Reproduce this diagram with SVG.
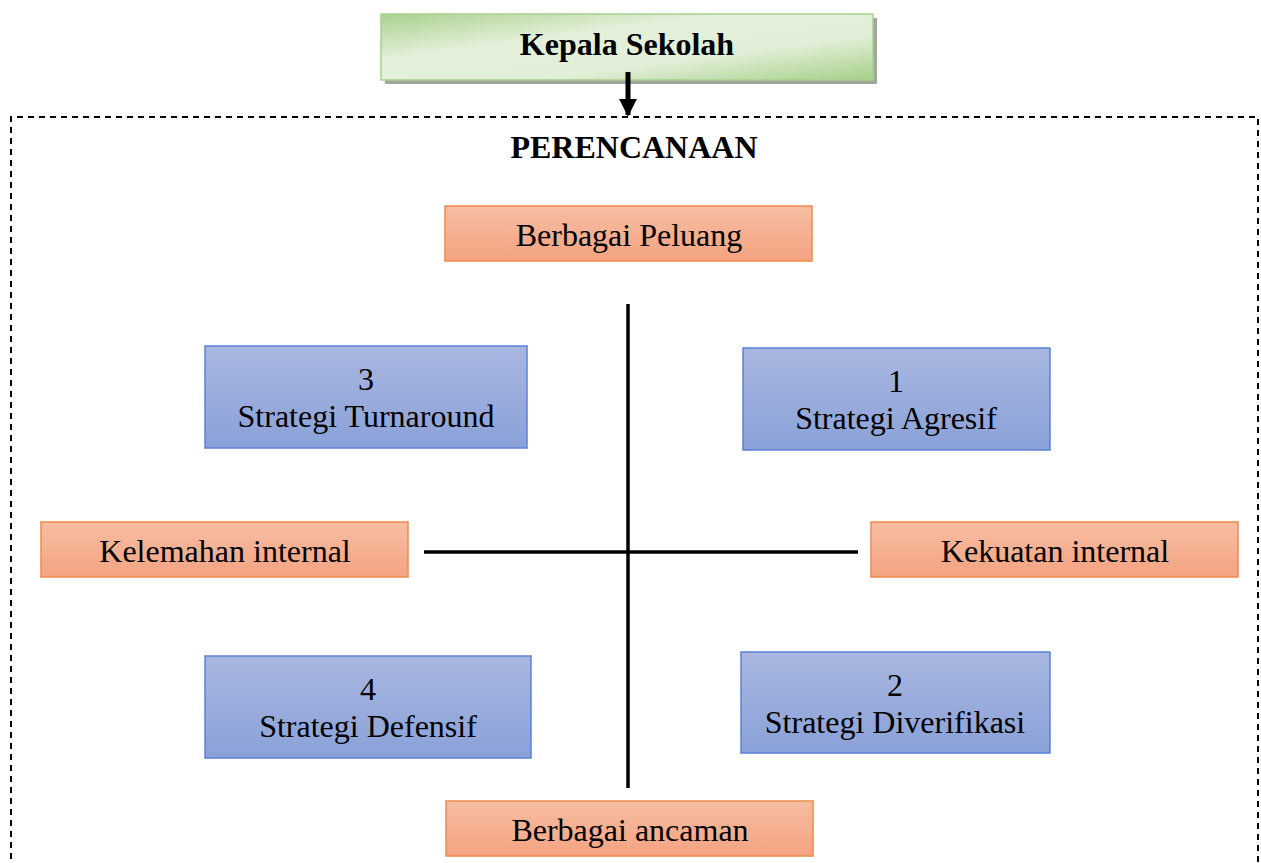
<svg xmlns="http://www.w3.org/2000/svg" width="1261" height="863" viewBox="0 0 1261 863">
  <style>
    .t { font-family: "Liberation Serif", "Times New Roman", serif; font-size: 32px; fill: #000; text-anchor: middle; }
    .b { font-weight: bold; }
    .orange { fill: url(#gOrange); stroke: #F08A4B; stroke-width: 1.5; }
    .blue { fill: url(#gBlue); stroke: #5B82D6; stroke-width: 1.5; }
    .axis { stroke: #000; stroke-width: 3.5; fill: none; }
  </style>
  <defs>
    <linearGradient id="gOrange" x1="0" y1="0" x2="0" y2="1">
      <stop offset="0" stop-color="#F7BDA2"/>
      <stop offset="1" stop-color="#F4A381"/>
    </linearGradient>
    <linearGradient id="gBlue" x1="0" y1="0" x2="0" y2="1">
      <stop offset="0" stop-color="#A9B7E0"/>
      <stop offset="1" stop-color="#8AA1D8"/>
    </linearGradient>
    <linearGradient id="gGreen" x1="0" y1="0" x2="1" y2="1">
      <stop offset="0" stop-color="#A9D18E"/>
      <stop offset="0.35" stop-color="#E4F0DA"/>
      <stop offset="0.65" stop-color="#E2EFD8"/>
      <stop offset="1" stop-color="#A6D08A"/>
    </linearGradient>
    <marker id="arrow" viewBox="0 0 10 10" refX="9" refY="5" markerWidth="3.6" markerHeight="3.6" orient="auto" markerUnits="strokeWidth">
      <path d="M0,0 L10,5 L0,10 Z" fill="#000"/>
    </marker>
  </defs>

  <!-- planning frame -->
  <path d="M11,870 L11,117 L1258,117 L1258,870" fill="none" stroke="#000" stroke-width="2" stroke-dasharray="6,5"/>

  <!-- head node -->
  <g id="kepala">
    <rect x="385" y="18" width="492" height="66" fill="#9FA89A"/>
    <rect x="381" y="14" width="492" height="66" fill="url(#gGreen)" stroke="#A9D18E" stroke-width="1.5"/>
    <text class="t b" x="627" y="55">Kepala Sekolah</text>
  </g>

  <text class="t b" x="634" y="158">PERENCANAAN</text>

  <!-- connectors -->
  <g id="connectors">
    <line x1="628" y1="72" x2="628" y2="115" stroke="#000" stroke-width="5" marker-end="url(#arrow)"/>
    <line class="axis" x1="628" y1="304" x2="628" y2="788"/>
    <line class="axis" x1="424" y1="552" x2="858" y2="552"/>
  </g>

  <g id="peluang">
    <rect class="orange" x="445" y="206" width="367" height="55"/>
    <text class="t" x="629" y="246">Berbagai Peluang</text>
  </g>

  <g id="ancaman">
    <rect class="orange" x="446" y="801" width="367" height="55"/>
    <text class="t" x="630" y="841">Berbagai ancaman</text>
  </g>

  <g id="kelemahan">
    <rect class="orange" x="41" y="522" width="367" height="55"/>
    <text class="t" x="225" y="562">Kelemahan internal</text>
  </g>

  <g id="kekuatan">
    <rect class="orange" x="871" y="522" width="367" height="55"/>
    <text class="t" x="1055" y="562">Kekuatan internal</text>
  </g>

  <g id="turnaround">
    <rect class="blue" x="205" y="346" width="322" height="102"/>
    <text class="t" x="366" y="390">3</text>
    <text class="t" x="366" y="427">Strategi Turnaround</text>
  </g>

  <g id="agresif">
    <rect class="blue" x="743" y="348" width="307" height="102"/>
    <text class="t" x="896" y="392">1</text>
    <text class="t" x="896" y="429">Strategi Agresif</text>
  </g>

  <g id="defensif">
    <rect class="blue" x="205" y="656" width="326" height="102"/>
    <text class="t" x="368" y="700">4</text>
    <text class="t" x="368" y="737">Strategi Defensif</text>
  </g>

  <g id="diverifikasi">
    <rect class="blue" x="741" y="652" width="309" height="101"/>
    <text class="t" x="895" y="696">2</text>
    <text class="t" x="895" y="733">Strategi Diverifikasi</text>
  </g>
</svg>
